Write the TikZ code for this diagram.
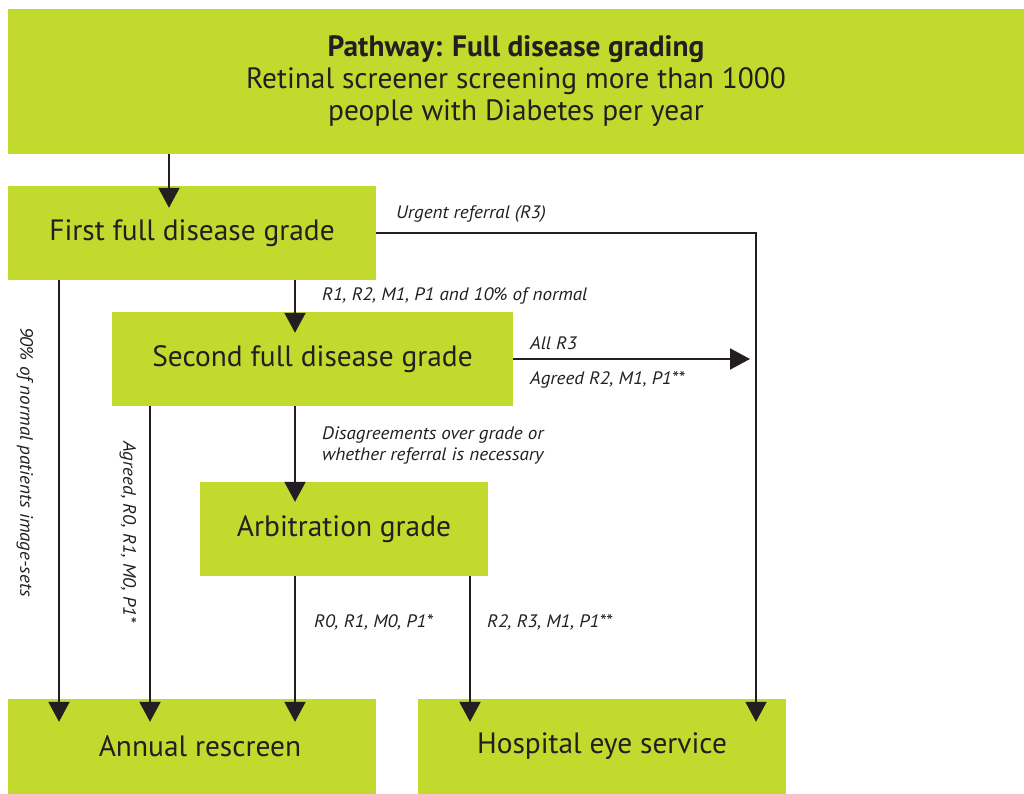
\documentclass[tikz,border=0pt]{standalone}
\usepackage{fontspec}
\setmainfont{PT Sans}
\newfontfamily\lblfont[FakeStretch=1.06]{PT Sans}
\usetikzlibrary{arrows.meta,calc}
\definecolor{lime}{HTML}{C2D92E}
\definecolor{ink}{HTML}{231F20}
\tikzset{
  box/.style={fill=lime, draw=none, inner sep=0pt, text=ink, font=\fontsize{29.4}{32}\selectfont, align=center},
  lbl/.style={inner sep=0pt, text=ink, font=\lblfont\fontsize{18}{21}\selectfont\itshape, anchor=west},
  conn/.style={draw=ink, line width=2pt},
  arr/.style={conn, -{Triangle[width=21pt,length=20pt]}},
}
\begin{document}
\begin{tikzpicture}[x=1pt,y=-1pt]
\useasboundingbox (0,0) rectangle (1024,794);
% boxes
\node[box, minimum width=1016pt, minimum height=145pt] (top) at (516,81.5)
  {\textbf{Pathway: Full disease grading}\\Retinal screener screening more than 1000\\people with Diabetes per year};
\node[box, minimum width=368pt, minimum height=94pt] (first) at (192,233) {First full disease grade};
\node[box, minimum width=401pt, minimum height=94pt] (second) at (312.5,359) {Second full disease grade};
\node[box, minimum width=288pt, minimum height=94pt] (arb) at (344,529) {Arbitration grade};
\node[box, minimum width=368pt, minimum height=95pt] (annual) at (192,746.5) {\hspace*{16pt}Annual rescreen};
\node[box, minimum width=368pt, minimum height=95pt] (hosp) at (602,746.5) {Hospital eye service};
\coordinate (corner) at (756,233);
% connectors
\draw[arr, shorten >=-22pt] (top.south -| 169,0) -- (first.north -| 169,0);
\draw[arr, shorten >=-21pt] (first.south -| 295,0) -- (second.north -| 295,0);
\draw[arr, shorten >=-20pt] (second.south -| 295,0) -- (arb.north -| 295,0);
\draw[arr, shorten >=-23pt] (arb.south -| 295,0) -- (annual.north -| 295,0);
\draw[arr, shorten >=-23pt] (arb.south -| 470,0) -- (hosp.north -| 470,0);
\draw[arr, shorten >=-23pt] (first.south -| 59,0) -- (annual.north -| 59,0);
\draw[arr, shorten >=-23pt] (second.south -| 150,0) -- (annual.north -| 150,0);
\draw[arr, shorten >=-23pt] (first.east) -- (corner) -- (hosp.north -| corner);
\draw[arr, shorten >=6pt] (second.east) -- (second.east -| corner);
% labels
\node[lbl] (l1) at (396,214) {Urgent referral (R3)};
\node[lbl] (l2) at (322,296) {R1, R2, M1, P1 and 10\% of normal};
\node[lbl] (l3) at (530,343) {All R3};
\node[lbl] (l4) at (530,380) {Agreed R2, M1, P1**};
\node[lbl, align=left, anchor=north west] (l5) at (322,427) {Disagreements over grade or\\whether referral is necessary};
\node[lbl] (l6) at (314,622) {R0, R1, M0, P1*};
\node[lbl] (l7) at (487,622) {R2, R3, M1, P1**};
\node[lbl, anchor=center, rotate=-90] (l8) at (25,462) {90\% of normal patients image-sets};
\node[lbl, anchor=center, rotate=-90] (l9) at (128,532) {Agreed, R0, R1, M0, P1*};
\end{tikzpicture}
\end{document}
